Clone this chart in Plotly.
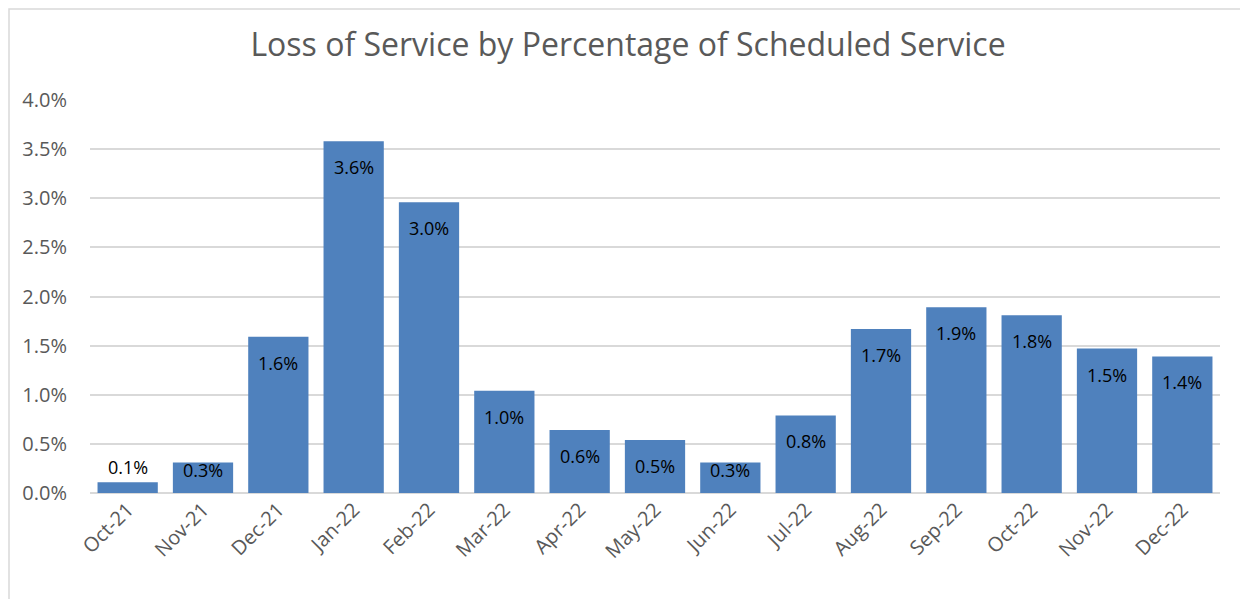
import plotly.graph_objects as go

months = ["Oct-21", "Nov-21", "Dec-21", "Jan-22", "Feb-22", "Mar-22", "Apr-22", "May-22",
          "Jun-22", "Jul-22", "Aug-22", "Sep-22", "Oct-22", "Nov-22", "Dec-22"]
loss_pct = [0.11, 0.31, 1.59, 3.58, 2.96, 1.04, 0.64, 0.54, 0.31, 0.79, 1.67, 1.89, 1.81, 1.47, 1.39]

values = [v / 100 for v in loss_pct]
y_max = 0.04

# page body has an 8px margin, so the figure is laid out 8px in from the window edge
W, H = 1240, 591
ml, mr, mt, mb = 82, 28, 92, 106
pw, ph = W - ml - mr, H - mt - mb
FONT = "Open Sans, sans-serif"

fig = go.Figure(go.Bar(
    x=months, y=values,
    marker=dict(color="#4F81BD", line=dict(width=0)),
    hovertemplate="%{x}: %{y:.2%}<extra></extra>",
))

annotations = []
for m, v in zip(months, values):
    bar_px = v / y_max * ph
    if bar_px < 20:
        shift = 15  # label above very short bars
    else:
        shift = -min(26, bar_px - 23)
    annotations.append(dict(x=m, y=v, xref="x", yref="y", text=f"{v:.1%}",
                            showarrow=False, yanchor="middle", yshift=shift,
                            font=dict(family=FONT, size=18, color="#000000")))

fig.update_layout(
    width=W, height=H,
    margin=dict(l=ml, r=mr, t=mt, b=mb),
    paper_bgcolor="white", plot_bgcolor="white",
    bargap=0.2,
    showlegend=False,
    title=dict(text="Loss of Service by Percentage of Scheduled Service",
               x=0.5, xref="container", xanchor="center",
               y=1 - 37 / H, yref="container", yanchor="middle",
               font=dict(family=FONT, size=32, color="#595959")),
    xaxis=dict(tickangle=-45, showgrid=False, showline=False, ticks="",
               tickfont=dict(family=FONT, size=20, color="#595959")),
    yaxis=dict(range=[0, y_max], dtick=0.005, tickformat=".1%",
               showgrid=True, gridcolor="#D9D9D9", gridwidth=1.5,
               zeroline=True, zerolinecolor="#D9D9D9", zerolinewidth=1.5,
               showline=False, ticks="", ticklabelstandoff=22,
               tickfont=dict(family=FONT, size=20, color="#595959")),
    annotations=annotations,
    shapes=[dict(type="rect", xref="paper", yref="paper",
                 x0=(1 - ml) / pw, x1=(W - 2 - ml) / pw,
                 y0=(mb - (H - 2)) / ph, y1=(H - 1 - mb) / ph,
                 line=dict(color="#D9D9D9", width=1.5), fillcolor="rgba(0,0,0,0)")],
)

fig.write_html("out.html")
